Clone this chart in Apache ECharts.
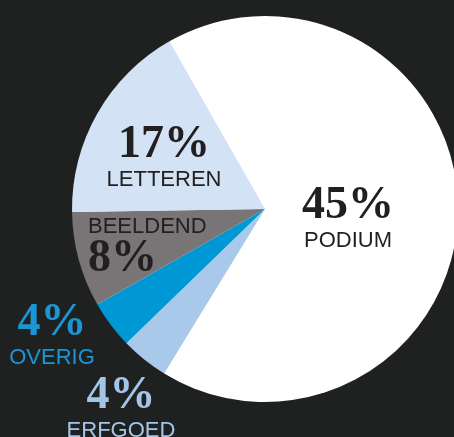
<!DOCTYPE html>
<html>
<head>
<meta charset="utf-8">
<script src="https://cdn.jsdelivr.net/npm/echarts@6/dist/echarts.min.js"></script>
<style>
html,body{margin:0;padding:0;background:#1f2121;}
#chart{width:454px;height:437px;}
</style>
</head>
<body>
<div id="chart"></div>
<script>
// Data (clockwise from the top-left edge of the white slice)
const categories = ['PODIUM', '', 'ERFGOED', 'OVERIG', 'BEELDEND', 'LETTEREN'];
const values = [45, 22, 4, 4, 8, 17];           // '' = unlabelled remainder drawn in white
const percentLabels = ['45%', '', '4%', '4%', '8%', '17%'];

const sliceColors = ['#ffffff', '#ffffff', '#a8c9ea', '#0097d5', '#797475', '#d3e3f5'];
const textColors = ['#231f20', '#231f20', '#a3c5e8', '#1a96d4', '#231f20', '#231f20'];

// label anchor: [x, y(top of block), align]
const labelPos = [
  [348, 186, 'center'],
  [0, 0, 'center'],
  [121, 376, 'center'],
  [52, 303, 'center'],
  [88, 215, 'left'],
  [164, 125, 'center']
];

const chart = echarts.init(document.getElementById('chart'));

const data = categories.map((c, i) => ({
  name: c || 'rest',
  value: values[i],
  itemStyle: { color: sliceColors[i] },
  label: {
    show: c !== '',
    color: textColors[i],
    align: labelPos[i][2],
    formatter: i === 4
      ? '{n2|' + c + '}\n{p|' + percentLabels[i] + '}'
      : '{p|' + percentLabels[i] + '}\n{n|' + c + '}',
    rich: {
      p: { fontFamily: 'Liberation Serif', fontWeight: 'bold', fontSize: 46, lineHeight: 40, color: textColors[i], align: labelPos[i][2] },
      n: { fontFamily: 'Liberation Sans', fontSize: 22, lineHeight: 30, color: textColors[i], align: labelPos[i][2] },
      n2: { fontFamily: 'Liberation Sans', fontSize: 22, lineHeight: 24, color: textColors[i], align: labelPos[i][2] }
    }
  }
}));

chart.setOption({
  backgroundColor: '#1f2121',
  animation: false,
  series: [{
    // white backing disc so adjacent white slices show no seam
    type: 'pie',
    z: 1,
    center: [265, 209],
    radius: 192,
    silent: true,
    label: { show: false },
    labelLine: { show: false },
    itemStyle: { color: '#ffffff', borderWidth: 0 },
    data: [{ name: 'backing', value: values.reduce((a, b) => a + b, 0) }]
  }, {
    type: 'pie',
    z: 2,
    center: [265, 209],
    radius: 193,
    startAngle: 119.7,
    clockwise: true,
    avoidLabelOverlap: false,
    silent: true,
    itemStyle: { borderWidth: 0 },
    labelLine: { show: false },
    label: { position: 'inside' },
    labelLayout: function (p) {
      const lp = labelPos[p.dataIndex];
      return { x: lp[0], y: lp[1], align: lp[2], verticalAlign: 'top' };
    },
    data: data
  }]
});
</script>
</body>
</html>
